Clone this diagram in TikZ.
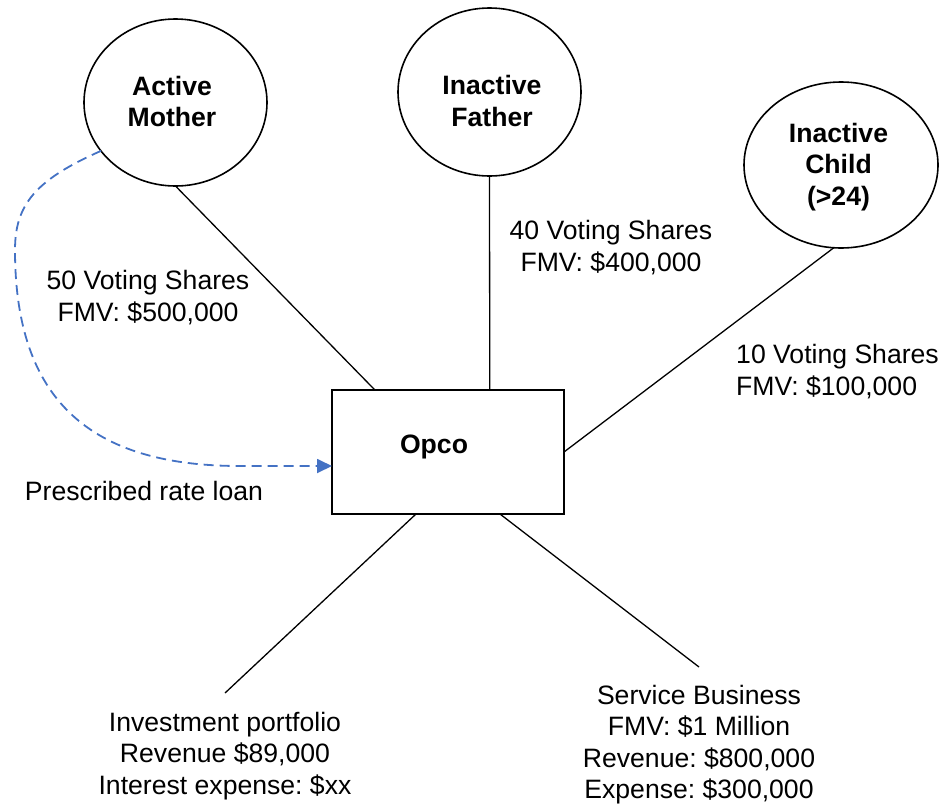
\documentclass[tikz,border=0pt]{standalone}
\usepackage{fontspec}
\setmainfont{Liberation Sans}
\usetikzlibrary{shapes.geometric,arrows.meta,calc}

\definecolor{loanblue}{HTML}{4472C4}

\tikzset{
  person/.style={ellipse, draw=black, line width=1.6pt, inner sep=0pt, outer sep=0pt},
  company/.style={rectangle, draw=black, line width=1.8pt, inner sep=0pt, outer sep=0pt,
    minimum width=232pt, minimum height=124pt},
  namelabel/.style={align=center, inner sep=0pt, font=\fontsize{26.6}{31.5}\selectfont\bfseries\frenchspacing},
  info/.style={align=center, inner sep=0pt, font=\fontsize{26.6}{31.5}\selectfont\frenchspacing},
  link/.style={draw=black, line width=1.3pt},
  loan/.style={draw=loanblue, line width=1.8pt, dash pattern=on 10pt off 6pt,
    -{Triangle[length=15pt,width=14pt]}}
}

\begin{document}
\begin{tikzpicture}[x=1pt, y=-1pt]
  \useasboundingbox (0,0) rectangle (941,803);

  % shareholders
  \node[person, minimum width=183pt, minimum height=167pt] (mother) at (175.5,102.5) {};
  \node[person, minimum width=183pt, minimum height=168pt] (father) at (489.5,92) {};
  \node[person, minimum width=194pt, minimum height=166pt] (child) at (841,165) {};
  \node[namelabel] (motherlbl) at (172,101.5) {Active\\Mother};
  \node[namelabel] (fatherlbl) at (492,101) {Inactive\\Father};
  \node[namelabel] (childlbl) at (838.5,167) {Inactive\\Child\\(>24)};

  % operating company
  \node[company] (opco) at (448,452) {};
  \node[namelabel] (opcolbl) at (434,447) {Opco};

  % share ownership
  \draw[link] (mother.south) -- ($(opco.north west)!0.185!(opco.north east)$);
  \draw[link] (father.south) -- ($(opco.north west)!0.68!(opco.north east)$);
  \draw[link] (child.-95) -- (opco.east);

  % holdings of the company
  \coordinate (invest) at (225,693);
  \coordinate (service) at (699,667);
  \draw[link] ($(opco.south west)!0.362!(opco.south east)$) -- (invest);
  \draw[link] ($(opco.south west)!0.724!(opco.south east)$) -- (service);

  % prescribed rate loan
  \coordinate (loanbend) at (240,466);
  \draw[loan] (mother.213) .. controls (35,180) and (15,205) .. (15,250)
    .. controls (15,400) and (90,466) .. (loanbend) -- (opco.west |- loanbend);

  % labels
  \node[info] (motherinfo) at (148,297.5) {50 Voting Shares\\FMV: \$500,000};
  \node[info] (fatherinfo) at (611,247.5) {40 Voting Shares\\FMV: \$400,000};
  \node[info, align=left, anchor=west] (childinfo) at (736,371.5) {10 Voting Shares\\FMV: \$100,000};
  \node[info] (loaninfo) at (144,491) {Prescribed rate loan};
  \node[info] (investinfo) at (225,756) {Investment portfolio\\Revenue \$89,000\\Interest expense: \$xx};
  \node[info] (serviceinfo) at (699,744.5) {Service Business\\FMV: \$1 Million\\Revenue: \$800,000\\Expense: \$300,000};
\end{tikzpicture}
\end{document}
